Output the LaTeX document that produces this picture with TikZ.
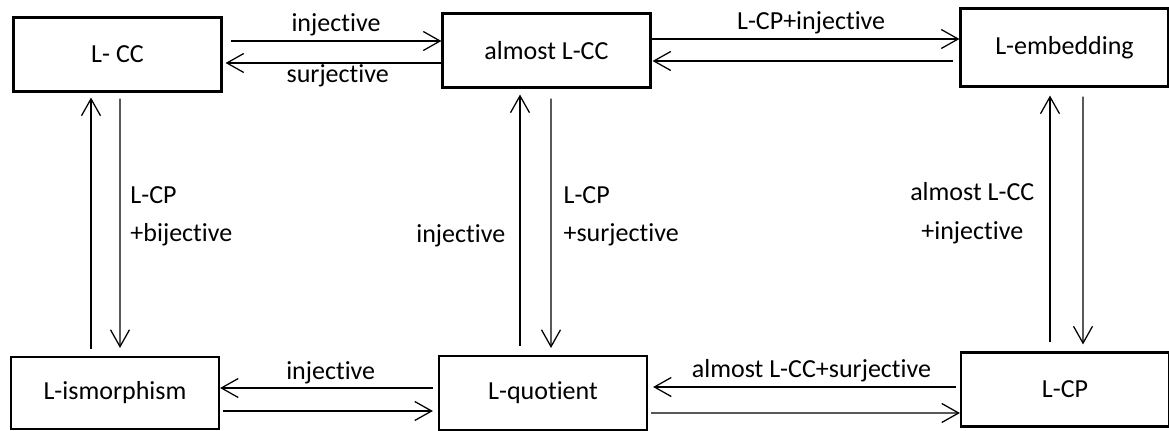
\documentclass[tikz,border=0pt]{standalone}
\usepackage{fontspec}
\setmainfont{Carlito}[Ligatures=NoCommon]
\usetikzlibrary{arrows.meta}
\tikzset{
    map-box/.style = {draw=black, line width=1.5pt, rectangle, minimum width=5.2cm, minimum height=1.85cm, inner sep=0pt},
    map-arrow/.style = {draw=black, line width=0.9pt, -{Straight Barb[length=12pt, width=13.5pt]}},
    map-label/.style = {inner sep=0pt},
}
\begin{document}
\begin{tikzpicture}[x=0.025cm, y=0.025cm, font=\fontsize{18.5pt}{27.4pt}\selectfont]
\useasboundingbox (0,0) rectangle (1169,-431);
\node[map-box] (lcc) at (117.5,-54.5) {L- CC};
\node[map-box] (almostlcc) at (546.5,-50.5) {almost L-CC};
\node[map-box, minimum height=1.95cm] (lemb) at (1064.5,-47.5) {L-embedding};
\node[map-box, minimum height=1.8cm] (liso) at (115,-393) {L-ismorphism};
\node[map-box] (lquot) at (543,-393) {L-quotient};
\node[map-box] (lcp) at (1065,-389.5) {L-CP};

\draw[map-arrow] ([shift={(8,13.5)}]lcc.east) -- ([shift={(0,9.5)}]almostlcc.west)
    node[map-label, midway, anchor=base, yshift=7pt] {injective};
\draw[map-arrow] ([shift={(0,-12.5)}]almostlcc.west) -- ([shift={(3,-8.5)}]lcc.east)
    node[map-label, midway, anchor=base, xshift=3pt, yshift=-14pt] {surjective};
\draw[map-arrow] ([shift={(0,11.5)}]almostlcc.east) -- ([shift={(0,8.5)}]lemb.west)
    node[map-label, midway, anchor=base, xshift=4pt, yshift=6.4pt] {L-CP+injective};
\draw[map-arrow] ([shift={(-6,-13.5)}]lemb.west) -- ([shift={(1,-10.5)}]almostlcc.east);

\draw[map-arrow] ([shift={(-5,5)}]lquot.west) -- ([shift={(0,5)}]liso.east)
    node[map-label, midway, anchor=base, xshift=3pt, yshift=5.7pt] {injective};
\draw[map-arrow] ([shift={(3,-18)}]liso.east) -- ([shift={(-5,-18)}]lquot.west);
\draw[map-arrow] ([shift={(-4,2.5)}]lcp.west) -- ([shift={(5,6)}]lquot.east)
    node[map-label, midway, anchor=base, xshift=5pt, yshift=7.1pt] {almost L-CC+surjective};
\draw[map-arrow] ([shift={(3,-20)}]lquot.east) -- ([shift={(0,-23.5)}]lcp.west);

\draw[map-arrow] ([shift={(-24,7)}]liso.north) -- ([shift={(-26.5,-5)}]lcc.south);
\draw[map-arrow] ([shift={(2.5,-6)}]lcc.south) -- ([shift={(5,8)}]liso.north)
    node[map-label, pos=0.472, anchor=west, xshift=7pt, align=left] {L-CP\\+bijective};
\draw[map-arrow] ([shift={(-23,9)}]lquot.north) -- ([shift={(-26.5,-6)}]almostlcc.south)
    node[map-label, pos=0.44, anchor=east, xshift=-10pt] {injective};
\draw[map-arrow] ([shift={(4.5,-10)}]almostlcc.south) -- ([shift={(8,7)}]lquot.north)
    node[map-label, pos=0.472, anchor=west, xshift=8.5pt, align=left] {L-CP\\+surjective};
\draw[map-arrow] ([shift={(-15,9)}]lcp.north) -- ([shift={(-14.5,-8)}]lemb.south)
    node[map-label, pos=0.524, anchor=east, xshift=-10.7pt, align=center] {almost L-CC\\+injective};
\draw[map-arrow] ([shift={(18.5,-9)}]lemb.south) -- ([shift={(18,7)}]lcp.north);
\end{tikzpicture}
\end{document}
